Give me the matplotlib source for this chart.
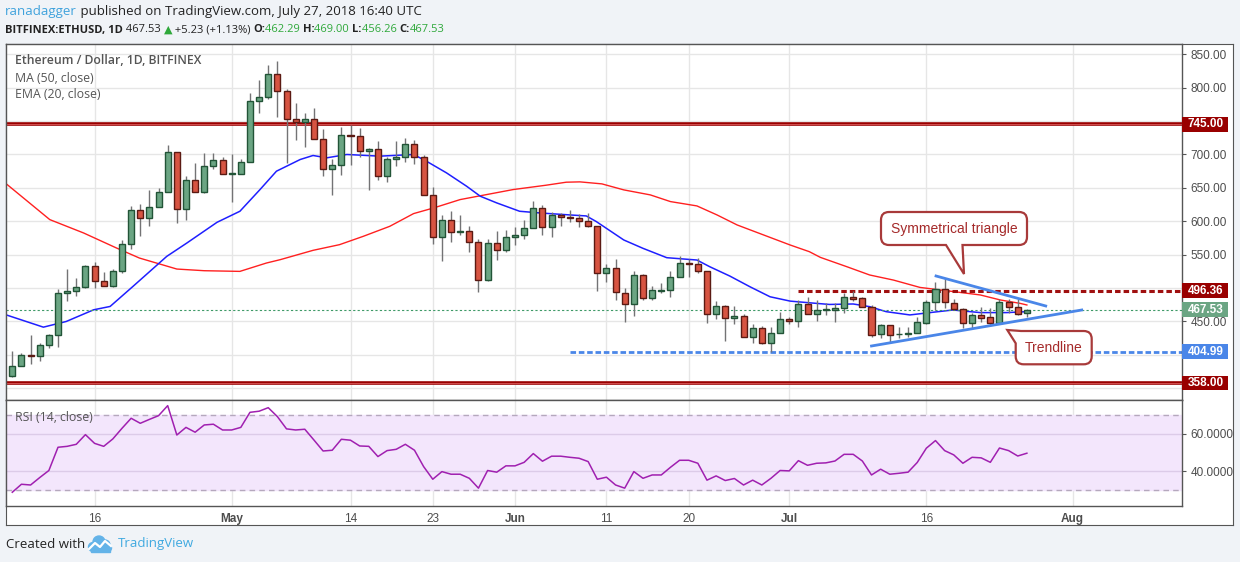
import matplotlib
matplotlib.use('Agg')
import datetime as dt
import numpy as np
import matplotlib.pyplot as plt
import matplotlib.transforms as mtransforms
from matplotlib.patches import Rectangle, PathPatch, Circle
from matplotlib.path import Path

W, H = 1240, 562

# ---- data ----
start = dt.date(2018, 4, 7)

opens = [368.5, 383.5, 400, 398.5, 415, 430, 492.5, 495.5, 501.5, 532.5,
         510.5, 502.5, 526, 566.5, 616.5, 605, 621.5, 644, 704, 618.5,
         662.5, 643.5, 683.5, 691, 671, 671, 689, 780.5, 786.5, 821,
         795, 753.5, 748.5, 752.5, 723.5, 678.5, 684.5, 729.5, 728, 705.5,
         707.5, 667.5, 693.5, 696.5, 716, 696.5, 639.5, 576.5, 602, 584,
         585.5, 569, 512, 567.5, 556.5, 576.5, 579.5, 590, 620, 591.5,
         609.5, 606.5, 604.5, 600, 593, 522, 529.5, 492.5, 475.5, 519,
         485.5, 495.5, 496.5, 516, 537.5, 535.5, 525, 460.5, 472.5, 454.5,
         457.5, 427.5, 439.5, 418.5, 433.5, 453.5, 450, 475.5, 460.5, 467,
         467.3, 469.8, 486.2, 484.7, 471.2, 430.8, 444.3, 431, 431.3, 432.3,
         448.3, 479.3, 498.2, 478.2, 468.2, 448.3, 459.3, 456.3, 448.3, 478.7,
         471.2, 462.29]
highs = [406, 402.5, 430, 417.5, 432, 498.5, 528.5, 515, 535, 538.5,
         524, 528.5, 572.5, 622.5, 626.5, 647.5, 650, 713.5, 704, 667.5,
         687.5, 701.5, 701.5, 696.5, 700, 692.5, 792.5, 811.5, 833.5, 840,
         798.5, 776.5, 761.5, 770, 737.5, 692.5, 741.5, 743.5, 740, 710,
         719.5, 696.5, 719.5, 724, 721, 698.5, 651, 610, 616, 610,
         593.5, 573.5, 574, 586, 587.5, 591, 602.5, 630, 625, 614.5,
         612.5, 617.5, 611.5, 612, 593, 536, 543.5, 499.5, 525.5, 521,
         503, 507, 525.5, 548, 543, 544.5, 525, 480.5, 474.5, 473,
         461, 445.5, 443, 442, 464, 456, 482, 486, 482, 477,
         477, 493, 496, 486, 474.7, 446.3, 444.3, 442.3, 441.3, 456.3,
         482.2, 509.6, 515.6, 483.2, 469.8, 463.3, 471.2, 469.8, 483.2, 483.2,
         483.2, 469.0]
lows = [367, 383, 387, 391.5, 410, 412.5, 480, 487.5, 500, 500,
        502.5, 502, 522.5, 558.5, 577.5, 592.5, 621.5, 644, 597.5, 601.5,
        643.5, 642.5, 678.5, 671, 629, 671, 689, 762.5, 783.5, 756.5,
        687.5, 721.5, 711, 723.5, 667.5, 639, 669, 685, 696.5, 646.5,
        661.5, 658.5, 682.5, 688.5, 686.5, 639.5, 565.5, 540, 568.5, 580,
        553.5, 493.5, 510.5, 542.5, 553.5, 564, 574, 590, 580, 576.5,
        592.5, 598.5, 591.5, 592, 496, 509.5, 482, 449.5, 458, 482,
        482, 493, 487, 516, 517, 522, 448, 453.5, 421, 445.5,
        427.5, 418, 417, 404.5, 433.5, 445.5, 442, 460.5, 451, 460,
        449.8, 462, 481, 471, 427.3, 424.8, 417.3, 424.8, 427.3, 432.3,
        446.3, 467.3, 469.8, 467.3, 439.8, 439.8, 449.8, 443.3, 448.3, 462.3,
        459.8, 456.26]
closes = [383.5, 400, 398.5, 415, 430, 492.5, 495.5, 501.5, 532.5, 510.5,
          502.5, 526, 566.5, 616.5, 605, 621.5, 644, 704, 618.5, 662.5,
          643.5, 683.5, 691, 671, 671.5, 689, 780.5, 786.5, 821, 795,
          753.5, 748.5, 752.5, 723.5, 678.5, 684.5, 729.5, 728, 705.5, 707.5,
          667.5, 693.5, 696.5, 716, 696.5, 639.5, 576.5, 602, 584, 586,
          569, 512, 567.5, 556.5, 576.5, 579.5, 590, 620, 591.5, 609.5,
          606, 604.5, 600, 592.5, 522, 529.5, 493.5, 475.5, 519, 485.5,
          496.5, 497, 516, 537, 535.5, 525, 460.5, 472.5, 454.5, 457.5,
          427.5, 439.5, 418.5, 433.5, 453, 450, 475.5, 460.5, 467, 469,
          469.8, 486.2, 484.2, 471.2, 430.3, 444.3, 429.8, 431.6, 432.8, 448.8,
          479.3, 498.2, 479.3, 468.2, 448.3, 459.3, 455.8, 448.3, 478.7, 471.2,
          460.8, 467.53]

ma50_x = [-0.7, 4.1, 7.8, 11.4, 13.9, 18, 21, 24.9, 27.8, 29.3, 32.9, 35.8,
          38.4, 41.3, 43.9, 46.1, 49, 51.9, 54.8, 58.4, 60.6, 62.1, 64.5,
          66.9, 69.8, 72, 74.9, 77.1, 79.3, 82.2, 85.1, 87.2, 88.4, 91.3,
          93.8, 96.4, 99.3, 103, 105.9, 108.1, 110.3, 111]
ma50_y = [656.5, 602.5, 582.5, 560, 545, 528.5, 526, 525, 537.5, 542.5,
          556.5, 565, 577.5, 592.5, 611.5, 620, 632.5, 640, 647.5, 654,
          658.5, 659, 656, 647, 639.5, 629.5, 623, 609.5, 594.5, 579.5,
          564.5, 554.5, 546, 532, 519.6, 512, 501, 494.7, 489.7, 482.2,
          477, 474.7]

ema20_x = [-0.7, 3.4, 5.9, 8.9, 10.7, 13.2, 16.9, 19.1, 22.4, 24.9, 27.1,
           28.9, 31.5, 32.9, 34.4, 36.6, 40.2, 43.9, 45.3, 47.5, 49.7, 51.2,
           53, 55.5, 57.7, 61, 62.8, 63.9, 66.9, 69, 71.6, 74.9, 76.3, 78.5,
           80.7, 82.9, 85.1, 87.2, 89.4, 92, 93.8, 95.6, 98.2, 100.4, 102.9,
           105.9, 108.8, 111]
ema20_y = [460, 441.5, 450, 467.5, 472.5, 502.5, 547.5, 567.5, 598.5, 615,
           647.5, 675, 692.5, 698.5, 695, 700, 697.5, 700, 690, 672.5,
           652.5, 637.5, 627.5, 615, 612.5, 609.5, 608, 599.5, 572, 559.5,
           545.5, 542, 532, 518, 502, 487, 480.5, 478, 475.5, 476.2,
           472.2, 464.7, 459.8, 463.3, 467.2, 463.3, 463.3, 464.7]

rsi = [28.6, 32.9, 32.5, 36.5, 40.3, 52.8, 53.3, 54.4, 59.6, 54.9,
       53.3, 57.3, 63.0, 68.4, 65.7, 67.8, 69.8, 75.2, 59.4, 63.5,
       60.9, 64.8, 65.2, 62.1, 62.1, 63.5, 71.6, 72.2, 74.1, 69.3,
       62.7, 62.1, 62.5, 56.7, 50.8, 51.2, 57.1, 56.6, 53.5, 53.3,
       47.8, 51.0, 51.7, 54.4, 51.2, 42.4, 35.6, 39.7, 38.3, 38.3,
       36.1, 30.8, 40.3, 39.4, 42.8, 42.8, 44.7, 49.4, 45.3, 48.0,
       48.0, 47.4, 46.9, 45.1, 35.6, 36.7, 32.5, 30.8, 39.7, 36.1,
       37.9, 37.9, 42.0, 45.8, 45.8, 44.2, 35.1, 37.4, 34.9, 36.0,
       32.5, 35.1, 32.5, 36.1, 40.3, 40.1, 45.6, 43.1, 44.2, 44.4,
       45.4, 49.0, 49.0, 45.4, 37.9, 41.0, 38.3, 38.8, 39.4, 44.6,
       52.3, 56.4, 51.0, 48.7, 44.2, 47.4, 47.1, 44.7, 52.4, 51.0,
       48.1, 49.6]

resistance = 745.0
support = 358.0
triangle_top = 496.36
triangle_floor = 404.99
last_close = 467.53
top_start = dt.date(2018, 7, 2)
floor_start = dt.date(2018, 6, 7)

tri_upper_x = [101.06, 113.06]
tri_upper_y = [518.1, 473.2]
tri_lower_x = [94.0, 117.0]
tri_lower_y = [413.3, 467.2]

tick_dates = [dt.date(2018, 4, 16), dt.date(2018, 5, 1), dt.date(2018, 5, 14),
              dt.date(2018, 5, 23), dt.date(2018, 6, 1), dt.date(2018, 6, 11),
              dt.date(2018, 6, 20), dt.date(2018, 7, 1), dt.date(2018, 7, 16),
              dt.date(2018, 8, 1)]
tick_labels = ['16', 'May', '14', '23', 'Jun', '11', '20', 'Jul', '16', 'Aug']
price_ticks = [350, 400, 450, 500, 550, 600, 650, 700, 750, 800, 850]
hidden_ticks = [350, 400, 500, 750]   # covered by the level boxes

# ---- figure ----
fig = plt.figure(figsize=(W / 100, H / 100), dpi=100, facecolor='#f0f3f7')
pix = mtransforms.Affine2D().scale(1.0 / W, -1.0 / H).translate(0, 1) + fig.transFigure


def rect(l, t, r, b):
    return [l / W, 1 - b / H, (r - l) / W, (b - t) / H]


frame = fig.add_axes(rect(6, 44, 1233, 525), zorder=-1)
frame.set_facecolor('white')
frame.set_xticks([])
frame.set_yticks([])
for s in frame.spines.values():
    s.set_color('#555555')

ax = fig.add_axes(rect(6, 44, 1182, 399.5))
ax2 = fig.add_axes(rect(6, 399.5, 1182, 506), sharex=ax)

idx = np.arange(len(closes))
tick_pos = [(d - start).days for d in tick_dates]
grid_c = '#e6e6e6'

for a in (ax, ax2):
    a.set_facecolor('white')
    for s in a.spines.values():
        s.set_color('#555555')
        s.set_linewidth(1)
    a.yaxis.tick_right()
    a.tick_params(axis='y', length=3, color='#555555', labelcolor='#4d4d4d',
                  labelsize=8.5, pad=3)
    for t in tick_pos:
        a.axvline(t, color=grid_c, lw=1, zorder=0)

ax.set_xlim(-0.69, 127.97)
ax.set_ylim(333.2, 865.4)
ax.set_yticks(price_ticks)
ax.set_yticklabels(['' if v in hidden_ticks else '%.2f' % v for v in price_ticks])
for v in price_ticks:
    ax.axhline(v, color=grid_c, lw=1, zorder=0)
ax.tick_params(axis='x', bottom=False, labelbottom=False)

# moving averages
ax.plot(ma50_x, ma50_y, color='#ff2020', lw=1, zorder=2)
ax.plot(ema20_x, ema20_y, color='#1f1fff', lw=1.1, zorder=2)

# levels
for lv in (resistance, support):
    ax.axhline(lv, color='#990000', lw=2.6, zorder=2)
    ax.axhline(lv, color='#d25050', lw=0.7, zorder=2)
ax.axhline(last_close, color='#3f9a68', lw=0.8, ls=(0, (2, 2)), zorder=2)
x_top = (top_start - start).days
x_floor = (floor_start - start).days
ax.hlines(triangle_top, x_top, 128, color='#a01010', lw=2.2,
          linestyles=[(0, (1.8, 1.0))], zorder=2)
ax.hlines(triangle_floor, x_floor, 128, color='#4a86e8', lw=2.0,
          linestyles=[(0, (2.0, 1.0))], zorder=2)

# candles
up = '#6ba583'
dn = '#d75442'
ax.vlines(idx, lows, highs, color='#737375', lw=1, zorder=3)
o = np.array(opens)
c = np.array(closes)
body_h = np.maximum(np.abs(c - o), 0.9)
body_b = np.minimum(o, c)
is_up = c >= o
ax.bar(idx, body_h, bottom=body_b, width=0.66,
       color=np.where(is_up, up, dn), edgecolor=np.where(is_up, '#225437', '#5b1a13'),
       linewidth=1, zorder=4)

# triangle lines
ax.plot(tri_upper_x, tri_upper_y, color='#4a86e8', lw=2, zorder=5)
ax.plot(tri_lower_x, tri_lower_y, color='#4a86e8', lw=2, zorder=5)

# price boxes on the scale
blend = mtransforms.blended_transform_factory(ax.transAxes, ax.transData)
hh = 7.3 / 0.668
for val, col in [(resistance, '#990000'), (triangle_top, '#990000'),
                 (last_close, '#6ba583'), (triangle_floor, '#4a86e8'),
                 (support, '#990000')]:
    ax.add_patch(Rectangle((1.0, val - hh), 46 / 1176, 2 * hh, transform=blend,
                           facecolor=col, edgecolor='none', clip_on=False, zorder=6))
    ax.text(1.0 + 6 / 1176, val, '%.2f' % val, transform=blend, color='white',
            fontsize=8.5, fontweight='bold', va='center', ha='left', zorder=7,
            family='Liberation Sans')

for lab in ax.get_yticklabels():
    lab.set_family('Liberation Sans')

# legend texts
fig.text(15, 61, 'Ethereum / Dollar, 1D, BITFINEX', transform=pix, color='#555555',
         fontsize=8.8, fontweight='semibold', va='center', family='Open Sans')
fig.text(15, 78, 'MA (50, close)', transform=pix, color='#555555',
         fontsize=8.8, va='center', family='Open Sans')
fig.text(15, 94.5, 'EMA (20, close)', transform=pix, color='#555555',
         fontsize=8.8, va='center', family='Open Sans')

# RSI pane
ax2.set_ylim(21.2, 78.5)
ax2.axhspan(30, 70, color='#f3e6fc', zorder=0.5)
for v in (40, 60):
    ax2.axhline(v, color='#dccbe8', lw=1, zorder=0.6)
for v in (30, 70):
    ax2.axhline(v, color='#b5a8bd', lw=1, ls=(0, (4, 3)), zorder=0.7)
ax2.plot(idx, rsi, color='#a020b0', lw=1.1, zorder=3)
ax2.set_yticks([40, 60])
ax2.set_yticklabels(['40.0000', '60.0000'])
for lab in ax2.get_yticklabels():
    lab.set_family('Liberation Sans')
ax2.set_xticks(tick_pos)
ax2.set_xticklabels(tick_labels)
ax2.tick_params(axis='x', length=0, pad=5, labelsize=8.5, labelcolor='#4d4d4d')
for lab in ax2.get_xticklabels():
    lab.set_family('Liberation Sans')
    if lab.get_text() in ('May', 'Jun', 'Jul', 'Aug'):
        lab.set_fontweight('bold')
fig.text(15, 417.5, 'RSI (14, close)', transform=pix, color='#555555',
         fontsize=8.8, va='center', family='Open Sans')


# callout bubbles
def bubble_path(x0, y0, x1, y1, r, verts_tail, where):
    V = []
    C = []
    if where == 'bottom':
        V += [(x0 + r, y0), (x1 - r, y0), (x1, y0), (x1, y0 + r), (x1, y1 - r),
              (x1, y1), (x1 - r, y1)]
        C += [Path.MOVETO, Path.LINETO, Path.CURVE3, Path.CURVE3, Path.LINETO,
              Path.CURVE3, Path.CURVE3]
        V += verts_tail
        C += [Path.LINETO] * len(verts_tail)
        V += [(x0 + r, y1), (x0, y1), (x0, y1 - r), (x0, y0 + r), (x0, y0),
              (x0 + r, y0)]
        C += [Path.LINETO, Path.CURVE3, Path.CURVE3, Path.LINETO, Path.CURVE3,
              Path.CURVE3]
    else:
        first = verts_tail[-1]
        V += [first, (x1 - r, y0), (x1, y0), (x1, y0 + r), (x1, y1 - r),
              (x1, y1), (x1 - r, y1), (x0 + r, y1), (x0, y1), (x0, y1 - r)]
        C += [Path.MOVETO, Path.LINETO, Path.CURVE3, Path.CURVE3, Path.LINETO,
              Path.CURVE3, Path.CURVE3, Path.LINETO, Path.CURVE3, Path.CURVE3]
        V += verts_tail
        C += [Path.LINETO] * len(verts_tail)
    V.append(V[0])
    C.append(Path.CLOSEPOLY)
    return Path(V, C)


bcol = '#a83a3a'
p1 = bubble_path(881, 212, 1027, 245, 8,
                 [(962.5, 245), (964, 274), (946, 245)], 'bottom')
p2 = bubble_path(1015.7, 331, 1091.7, 364.3, 8,
                 [(1015.7, 343.3), (1007.3, 330), (1021, 331)], 'topleft')
for p in (p1, p2):
    fig.add_artist(PathPatch(p, transform=pix, facecolor='white', edgecolor=bcol,
                             lw=1.6, zorder=10))
fig.text(954, 228.5, 'Symmetrical triangle', transform=pix, color='#a52a2a',
         fontsize=10, ha='center', va='center', zorder=11, family='Liberation Sans')
fig.text(1054, 348, 'Trendline', transform=pix, color='#a52a2a',
         fontsize=10, ha='center', va='center', zorder=11, family='Liberation Sans')

# header
renderer = fig.canvas.get_renderer()


def chain(x, y, pieces, size):
    for txt, col, wt in pieces:
        t = fig.text(x, y, txt, transform=pix, color=col, fontsize=size,
                     fontweight=wt, va='center', ha='left',
                     family=['Open Sans', 'DejaVu Sans'])
        x += t.get_window_extent(renderer).width
    return x


green = '#2ea83a'
dark = '#222222'
chain(5, 12, [('ranadagger', '#3fa2dc', 'normal'),
              (' published on TradingView.com, July 27, 2018 16:40 UTC', dark, 'normal')],
      9.5)
chain(5, 30, [('BITFINEX:ETHUSD, 1D', dark, 'bold'), (' 467.53 ', dark, 'normal'),
              ('\u25B2', green, 'normal'), (' +5.23 (+1.13%) ', dark, 'normal'),
              ('O:', dark, 'bold'), ('462.29 ', green, 'normal'),
              ('H:', dark, 'bold'), ('469.00 ', green, 'normal'),
              ('L:', dark, 'bold'), ('456.26 ', green, 'normal'),
              ('C:', dark, 'bold'), ('467.53', green, 'normal')],
      8.0)

# footer
fig.text(6, 544, 'Created with', transform=pix, color=dark, fontsize=9.5,
         va='center', family='Open Sans')
logo = '#63b3e8'
for cx, cy, rr in [(93, 547, 4.5), (99, 542, 6), (105, 545, 5), (108, 548, 3.5)]:
    fig.add_artist(Circle((cx, cy), rr, transform=pix, color=logo, zorder=5))
fig.add_artist(Rectangle((91, 546), 19, 5.5, transform=pix, color=logo, zorder=5))
fig.add_artist(plt.Line2D([89, 95, 100, 105, 111], [549, 543, 547, 541, 546],
                          transform=pix, color='white', lw=1.6, zorder=6))
fig.text(118, 544, 'TradingView', transform=pix, color='#3fa9e0', fontsize=9.5,
         va='center', family='Open Sans')

fig.savefig('out.png', dpi=100, facecolor=fig.get_facecolor())
